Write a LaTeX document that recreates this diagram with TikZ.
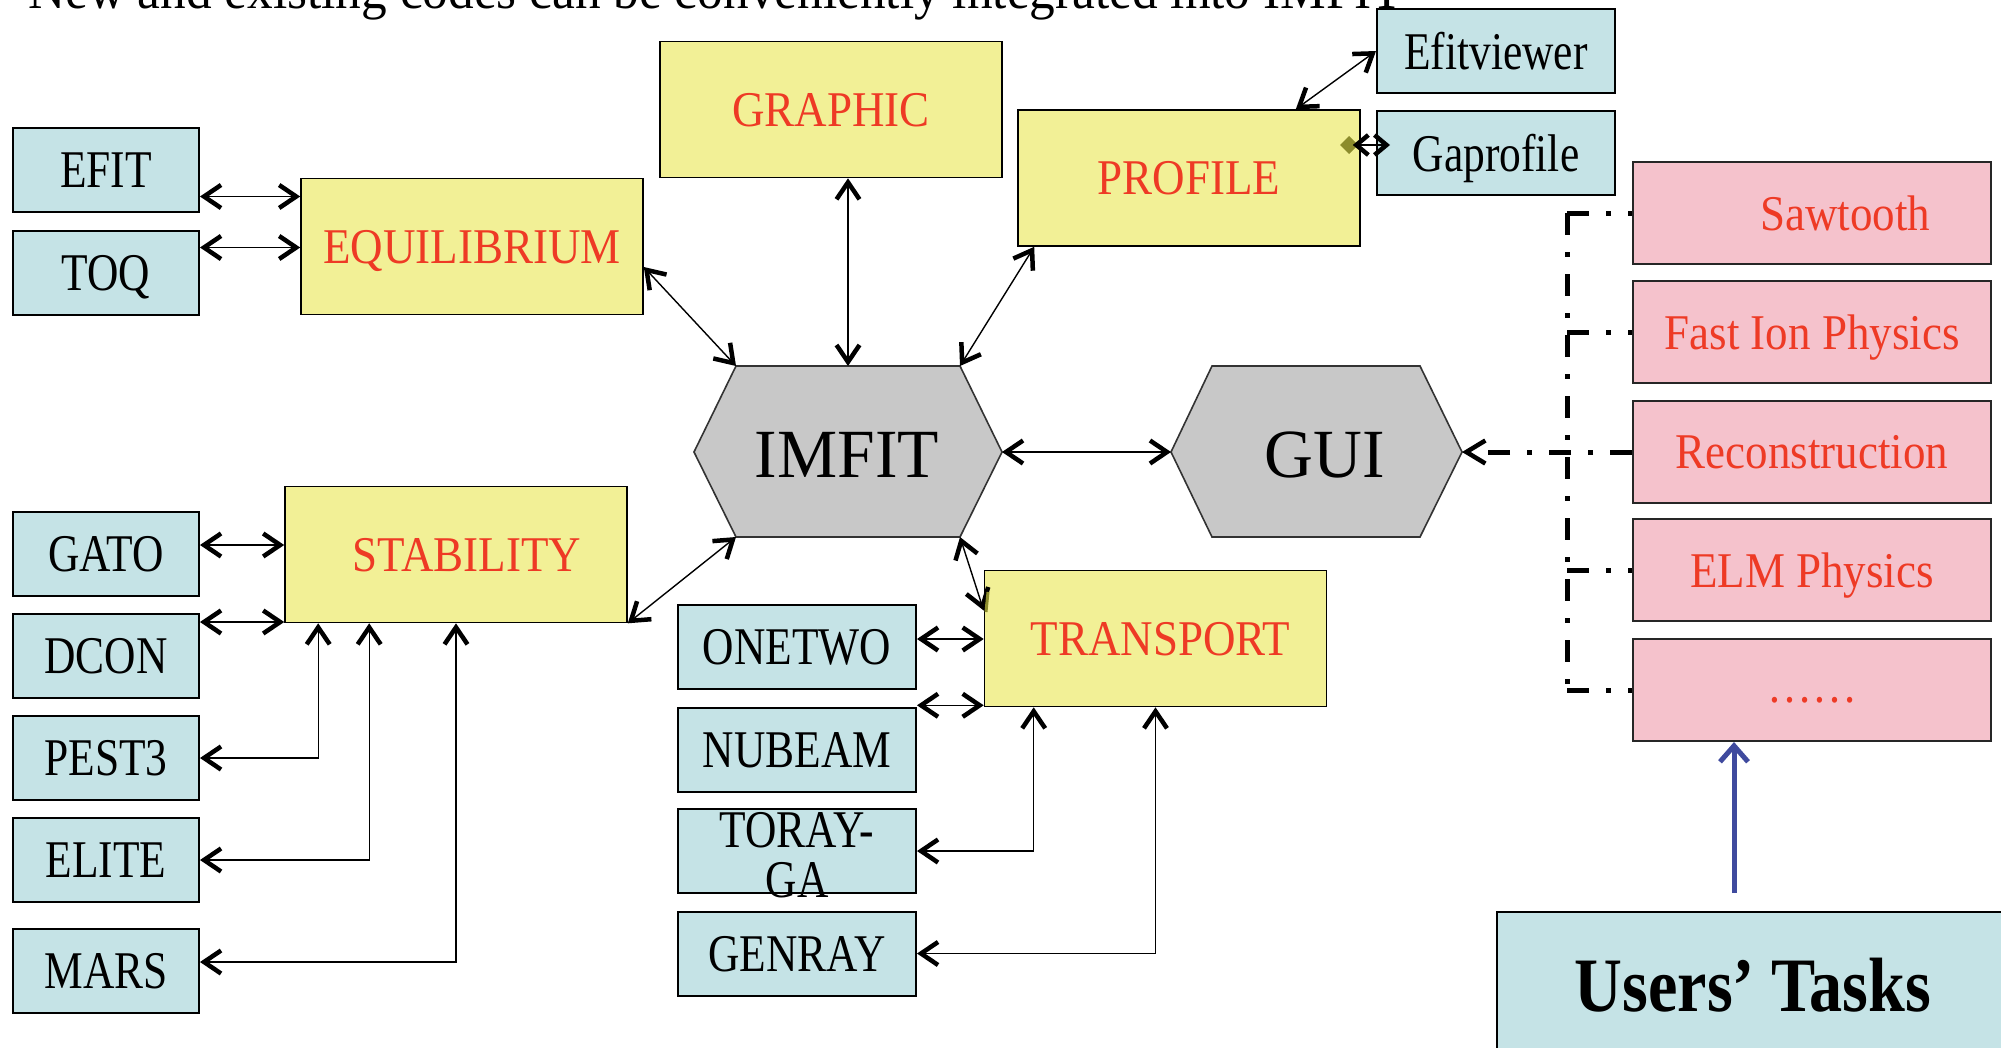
\documentclass[tikz,border=0pt]{standalone}
\usepackage{fontspec}
\setmainfont{Liberation Serif}
\usepackage{graphicx}
\usetikzlibrary{arrows.meta,calc}
\definecolor{cyanfill}{HTML}{C5E3E6}
\definecolor{yelfill}{HTML}{F2F096}
\definecolor{pinkfill}{HTML}{F5C2CC}
\definecolor{hexfill}{HTML}{C8C8C8}
\definecolor{redtxt}{HTML}{EE3A25}
\definecolor{bluearr}{HTML}{3F4A9E}
\definecolor{olivemk}{HTML}{8C8C2C}
\newcommand{\cytext}[1]{\scalebox{0.82}[1]{\fontsize{53}{56}\selectfont #1}}
\newcommand{\yetext}[1]{\scalebox{0.9}[1]{\fontsize{50}{54}\selectfont\color{redtxt}#1}}
\newcommand{\hxtext}[1]{\scalebox{0.98}[1]{\fontsize{69}{72}\selectfont #1}}
\begin{document}
\begin{tikzpicture}[x=1pt,y=-1pt,
  cybox/.style={draw=black, line width=2pt, fill=cyanfill, inner sep=0pt, text depth=0pt, minimum width=186pt, minimum height=84pt},
  cywide/.style={cybox, minimum width=238pt},
  yebox/.style={draw=black, line width=1.6pt, fill=yelfill, inner sep=0pt, text depth=0pt, minimum width=342pt, minimum height=136pt},
  pkbox/.style={draw=black!85, line width=2pt, fill=pinkfill, inner sep=0pt, text depth=0pt, minimum width=358pt, minimum height=102pt},
  hexsh/.style={draw=black!80, line width=1.6pt, fill=hexfill},
  lk/.style={line width=1.4pt, {Straight Barb[length=17pt,width=23pt,line width=4.5pt]}-{Straight Barb[length=17pt,width=23pt,line width=4.5pt]}},
  dd/.style={line width=5pt, dash pattern=on 22pt off 17pt on 5pt off 17pt},
  ddarrow/.style={dd, -{Straight Barb[length=19pt,width=23pt,line width=4.5pt]}},
  txt/.style={inner sep=0pt, text depth=0pt}
]
\useasboundingbox (0,0) rectangle (2001,1047);

% title (cut off at top)
\node[anchor=base west, inner sep=0pt] (title) at (28,8) {\scalebox{0.95}[1]{\fontsize{54}{58}\selectfont New and existing codes can be conveniently integrated into IMFIT}};

% left cyan column
\node[cybox] (efit) at (106,170) {\cytext{EFIT}};
\node[cybox] (toq) at (106,272.5) {\cytext{TOQ}};
\node[cybox] (gato) at (106,554) {\cytext{GATO}};
\node[cybox] (dcon) at (106,656) {\cytext{DCON}};
\node[cybox] (pest3) at (106,758) {\cytext{PEST3}};
\node[cybox] (elite) at (106,860) {\cytext{ELITE}};
\node[cybox] (mars) at (106,971) {\cytext{MARS}};

% yellow boxes
\node[yebox] (eq) at (472,246.5) {\yetext{EQUILIBRIUM}};
\node[yebox] (graphic) at (831,109.5) {\yetext{GRAPHIC}};
\node[yebox] (profile) at (1189,178) {\yetext{PROFILE}};
\node[yebox] (stab) at (456,554.5) {\hspace*{22pt}\yetext{STABILITY}};
\node[yebox] (trans) at (1155.5,638.5) {\hspace*{10pt}\yetext{TRANSPORT}};

% wide cyan boxes
\node[cywide] (efv) at (1496,51) {\cytext{Efitviewer}};
\node[cywide] (gap) at (1496,153) {\cytext{Gaprofile}};
\node[cywide] (onetwo) at (797,647) {\cytext{ONETWO}};
\node[cywide] (nubeam) at (797,749.5) {\cytext{NUBEAM}};
\node[cywide] (toray) at (797,851) {};
\node[cywide] (genray) at (797,953.5) {\cytext{GENRAY}};
\node[anchor=base, inner sep=0pt] (toray1) at (797,847) {\cytext{TORAY-}};
\node[anchor=base, inner sep=0pt] (toray2) at (797,897) {\cytext{GA}};

% pink boxes
\node[pkbox] (saw) at (1812,213) {\hspace*{66pt}\yetext{Sawtooth}};
\node[pkbox] (fast) at (1812,332) {\yetext{Fast Ion Physics}};
\node[pkbox] (recon) at (1812,452) {\yetext{Reconstruction}};
\node[pkbox] (elm) at (1812,570) {\yetext{ELM Physics}};
\node[pkbox] (dots) at (1812,690) {};
\node[anchor=base, inner sep=0pt] (dotstxt) at (1812,702) {\yetext{……}};

% users' tasks
\node[draw=black, line width=2pt, fill=cyanfill, minimum width=543pt, minimum height=168pt, inner sep=0pt] (users) at (1768.5,996) {};
\node[txt] (userstxt) at (1753,985) {\scalebox{0.86}[1]{\fontsize{77}{80}\selectfont\bfseries Users’ Tasks}};

% hexagons
\coordinate (imfit-l) at (694,452);
\coordinate (imfit-tl) at (736,366);
\coordinate (imfit-t) at (848,366);
\coordinate (imfit-tr) at (960,366);
\coordinate (imfit-r) at (1002,452);
\coordinate (imfit-br) at (960,537);
\coordinate (imfit-bl) at (736,537);
\draw[hexsh] (imfit-l) -- (imfit-tl) -- (imfit-tr) -- (imfit-r) -- (imfit-br) -- (imfit-bl) -- cycle;
\node[txt] (imfit) at (847,455) {\hxtext{IMFIT}};

\coordinate (gui-l) at (1171,452);
\coordinate (gui-tl) at (1212,366);
\coordinate (gui-tr) at (1420,366);
\coordinate (gui-r) at (1462,452);
\coordinate (gui-br) at (1420,537);
\coordinate (gui-bl) at (1212,537);
\draw[hexsh] (gui-l) -- (gui-tl) -- (gui-tr) -- (gui-r) -- (gui-br) -- (gui-bl) -- cycle;
\node[txt] (gui) at (1325,455) {\hxtext{GUI}};

% connectors: equilibrium group
\coordinate (a1) at ([yshift=-26.5pt]efit.east);
\draw[lk] (a1) -- (a1 -| eq.west);
\coordinate (a2) at ([yshift=25pt]toq.east);
\draw[lk] (a2) -- (a2 -| eq.west);
\draw[lk] ([yshift=-20.5pt]eq.east) -- (imfit-tl);

% graphic, profile
\draw[lk] (imfit-t) -- (imfit-t |- graphic.south);
\draw[lk] ([xshift=17pt]profile.south west) -- (imfit-tr);
\draw[lk] ([xshift=-65pt]profile.north east) -- (efv.west);
\fill[olivemk] (1340,145) -- (1349,136) -- (1358,145) -- (1349,154) -- cycle;
\coordinate (g1) at ([yshift=8pt]gap.west);
\draw[line width=1.4pt, {Straight Barb[length=12pt,width=20pt,line width=4.5pt]}-{Straight Barb[length=12pt,width=20pt,line width=4.5pt]}] ($(g1 -| profile.east)+(-8,0)$) -- ($(g1)+(14,0)$);

% imfit - gui
\draw[lk] (imfit-r) -- (gui-l);

% user modules dash-dot
\coordinate (vt) at (1567,213);
\coordinate (vb) at (1567,690);
\draw[dd] (vt) -- (vb);
\draw[dd] (vt) -- (saw.west);
\draw[dd] (fast.west -| vt) -- (fast.west);
\draw[dd] (elm.west -| vt) -- (elm.west);
\draw[dd] (vb) -- (dots.west);
\draw[ddarrow] (recon.west) -- (gui-r);

% stability group
\draw[lk] (stab.south east) -- (imfit-bl);
\coordinate (a3) at ([yshift=9pt]gato.east);
\draw[lk] (a3) -- (a3 -| stab.west);
\coordinate (a4) at ([yshift=34pt]dcon.east);
\draw[lk] (a4) -- (a4 -| stab.west);
\draw[lk] (pest3.east) -| ([xshift=34pt]stab.south west);
\draw[lk] (elite.east) -| ([xshift=85pt]stab.south west);
\draw[lk] ([yshift=9pt]mars.east) -| (stab.south);

% transport group
\draw[lk] (imfit-br) -- ([yshift=28pt]trans.west);
\draw[olivemk, line width=3pt] (988,592) -- (986,612);
\coordinate (a5) at ([yshift=8pt]onetwo.east);
\draw[lk] (a5) -- (a5 -| trans.west);
\coordinate (a6) at ([yshift=2pt]trans.south west);
\draw[lk] (a6 -| nubeam.east) -- (a6);
\draw[lk] (toray.east) -| ([xshift=50pt]trans.south west);
\draw[lk] (genray.east) -| (trans.south);

% users arrow
\coordinate (ut) at (1734,893);
\draw[bluearr, line width=5pt, -{Straight Barb[length=16pt,width=28pt,line width=5pt]}] (ut) -- (ut |- dots.south);
\end{tikzpicture}
\end{document}
